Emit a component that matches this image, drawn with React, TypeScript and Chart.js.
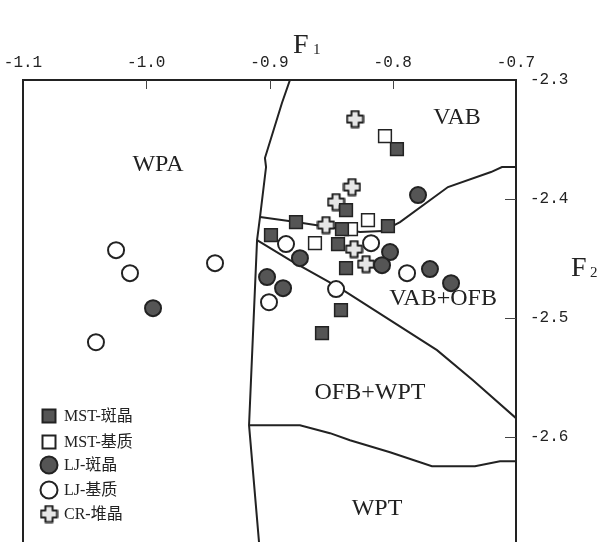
import React, { useEffect, useRef } from "react";
import { Chart, registerables } from "chart.js";

Chart.register(...registerables);

// Axis ranges and ticks
const xTicks = [-1.1, -1.0, -0.9, -0.8, -0.7];
const yTicks = [-2.3, -2.4, -2.5, -2.6];
const X_MIN = -1.1;
const X_MAX = -0.7;
const Y_MAX = -2.3;
const Y_MIN = -2.688;

// MST-斑晶 (filled squares)
const mstPhenoX = [-0.7966, -0.8379, -0.8785, -0.8412, -0.8039, -0.8988, -0.8444, -0.8379, -0.842, -0.8574];
const mstPhenoY = [-2.358, -2.4092, -2.4193, -2.4252, -2.4227, -2.4303, -2.4378, -2.458, -2.4933, -2.5126];

// MST-基质 (open squares)
const mstMatrixX = [-0.8063, -0.8201, -0.8339, -0.8631];
const mstMatrixY = [-2.3471, -2.4176, -2.4252, -2.437];

// LJ-斑晶 (filled circles)
const ljPhenoX = [-0.7795, -0.8753, -0.8022, -0.8087, -0.7698, -0.7527, -0.902, -0.889, -0.9945];
const ljPhenoY = [-2.3966, -2.4496, -2.4445, -2.4555, -2.4588, -2.4706, -2.4655, -2.4748, -2.4916];

// LJ-基质 (open circles)
const ljMatrixX = [-0.8866, -0.8176, -0.7884, -0.846, -0.9004, -1.0245, -1.0132, -0.9442, -1.0408];
const ljMatrixY = [-2.4378, -2.437, -2.4622, -2.4756, -2.4866, -2.4429, -2.4622, -2.4538, -2.5202];

// CR-堆晶 (crosses)
const crX = [-0.8306, -0.8331, -0.846, -0.8542, -0.8314, -0.8217];
const crY = [-2.3328, -2.3899, -2.4025, -2.4218, -2.442, -2.4546];

// Field boundaries
const leftBoundX = [-0.8834, -0.8899, -0.9037, -0.9028, -0.9077, -0.9101, -0.9166, -0.9085, -0.9075];
const leftBoundY = [-2.3, -2.3193, -2.3655, -2.3731, -2.4151, -2.4345, -2.5899, -2.6882, -2.7];

const vabBoundX = [-0.9077, -0.8785, -0.8266, -0.8079, -0.7941, -0.7552, -0.7203, -0.7114, -0.7];
const vabBoundY = [-2.4151, -2.4193, -2.4277, -2.4269, -2.4193, -2.3899, -2.3773, -2.3731, -2.3731];

const diagBoundX = [-0.9101, -0.8834, -0.8428, -0.7641, -0.7349, -0.7];
const diagBoundY = [-2.4345, -2.4513, -2.4748, -2.5269, -2.5521, -2.584];

const wptBoundX = [-0.9166, -0.8753, -0.8509, -0.8347, -0.8022, -0.7682, -0.7333, -0.713, -0.7];
const wptBoundY = [-2.5899, -2.5899, -2.5966, -2.6025, -2.6126, -2.6244, -2.6244, -2.6202, -2.6202];

// Field names
const fieldNames = ["WPA", "VAB", "VAB+OFB", "OFB+WPT", "WPT"];
const fieldX = [-0.9905, -0.7479, -0.7592, -0.8185, -0.8128];
const fieldY = [-2.3714, -2.3319, -2.484, -2.5622, -2.6597];

const legendLabels = ["MST-斑晶", "MST-基质", "LJ-斑晶", "LJ-基质", "CR-堆晶"];

const zip = (xs: number[], ys: number[]) => xs.map((x, i) => ({ x, y: ys[i] }));

const DARK = "#555555";
const STROKE = "#222222";
const CROSS_FILL = "#e6e6e6";

function makeCross(size: number): HTMLCanvasElement {
  const c = document.createElement("canvas");
  c.width = size;
  c.height = size;
  const g = c.getContext("2d")!;
  const h = size / 2;
  const a = 3.6;
  const L = h - 1.5;
  g.beginPath();
  g.moveTo(h - a, h - L);
  g.lineTo(h + a, h - L);
  g.lineTo(h + a, h - a);
  g.lineTo(h + L, h - a);
  g.lineTo(h + L, h + a);
  g.lineTo(h + a, h + a);
  g.lineTo(h + a, h + L);
  g.lineTo(h - a, h + L);
  g.lineTo(h - a, h + a);
  g.lineTo(h - L, h + a);
  g.lineTo(h - L, h - a);
  g.lineTo(h - a, h - a);
  g.closePath();
  g.fillStyle = CROSS_FILL;
  g.fill();
  g.lineJoin = "round";
  g.lineWidth = 2;
  g.strokeStyle = STROKE;
  g.stroke();
  return c;
}

export default function App() {
  const ref = useRef<HTMLCanvasElement | null>(null);

  useEffect(() => {
    if (!ref.current) return;
    const cross = makeCross(19);

    const lineDs = (xs: number[], ys: number[]) => ({
      type: "scatter" as const,
      data: zip(xs, ys),
      showLine: true,
      borderColor: STROKE,
      borderWidth: 2,
      pointRadius: 0,
      tension: 0,
      order: 5,
      fill: false,
    });

    const framePlugin = {
      id: "frame",
      afterDatasetsDraw(chart: any) {
        const { ctx, chartArea: a, scales } = chart;
        const sx = scales.x;
        const sy = scales.y;
        ctx.save();
        // left border
        ctx.strokeStyle = STROKE;
        ctx.lineWidth = 2;
        ctx.beginPath();
        ctx.moveTo(a.left, a.top - 1);
        ctx.lineTo(a.left, a.bottom + 2);
        ctx.stroke();
        // inward ticks
        ctx.lineWidth = 1;
        ctx.strokeStyle = "#444";
        xTicks.slice(1, -1).forEach((v) => {
          const px = Math.round(sx.getPixelForValue(v)) + 0.5;
          ctx.beginPath();
          ctx.moveTo(px, a.top);
          ctx.lineTo(px, a.top + 9);
          ctx.stroke();
        });
        yTicks.slice(1).forEach((v) => {
          const py = Math.round(sy.getPixelForValue(v)) + 0.5;
          ctx.beginPath();
          ctx.moveTo(a.right - 11, py);
          ctx.lineTo(a.right, py);
          ctx.stroke();
        });
        // field names
        ctx.fillStyle = "#222";
        ctx.font = '24px "Liberation Serif"';
        ctx.textAlign = "center";
        ctx.textBaseline = "middle";
        fieldNames.forEach((n, i) => {
          ctx.fillText(n, sx.getPixelForValue(fieldX[i]), sy.getPixelForValue(fieldY[i]));
        });
        // axis titles F1 / F2
        ctx.textAlign = "left";
        ctx.textBaseline = "alphabetic";
        ctx.font = '28px "Liberation Serif"';
        ctx.fillText("F", 293, 53);
        ctx.font = '15px "Liberation Serif"';
        ctx.fillText("1", 313, 54);
        ctx.font = '28px "Liberation Serif"';
        ctx.fillText("F", 571, 276);
        ctx.font = '15px "Liberation Serif"';
        ctx.fillText("2", 590, 277);
        // legend
        const rows = [416, 442, 465, 490, 514];
        const mx = 49;
        rows.forEach((ry, i) => {
          ctx.lineWidth = 2;
          ctx.strokeStyle = STROKE;
          if (i === 0 || i === 1) {
            ctx.fillStyle = i === 0 ? DARK : "#ffffff";
            ctx.fillRect(mx - 6.5, ry - 6.5, 13, 13);
            ctx.strokeRect(mx - 6.5, ry - 6.5, 13, 13);
          } else if (i === 2 || i === 3) {
            ctx.fillStyle = i === 2 ? DARK : "#ffffff";
            ctx.beginPath();
            ctx.arc(mx, ry, 8.5, 0, Math.PI * 2);
            ctx.fill();
            ctx.stroke();
          } else {
            ctx.drawImage(cross, mx - cross.width / 2, ry - cross.height / 2);
          }
          ctx.fillStyle = "#222";
          ctx.font = '16px "Liberation Serif", "Noto Sans CJK SC"';
          ctx.textAlign = "left";
          ctx.textBaseline = "middle";
          ctx.fillText(legendLabels[i], 64, ry + 1);
        });
        ctx.restore();
      },
    };

    const chart = new Chart(ref.current, {
      type: "scatter",
      data: {
        datasets: [
          {
            label: legendLabels[0],
            data: zip(mstPhenoX, mstPhenoY),
            pointStyle: "rect",
            pointRadius: 9,
            backgroundColor: DARK,
            borderColor: STROKE,
            borderWidth: 1.5,
            order: 0,
          },
          {
            label: legendLabels[1],
            data: zip(mstMatrixX, mstMatrixY),
            pointStyle: "rect",
            pointRadius: 9,
            backgroundColor: "#ffffff",
            borderColor: STROKE,
            borderWidth: 1.5,
            order: 1,
          },
          {
            label: legendLabels[2],
            data: zip(ljPhenoX, ljPhenoY),
            pointStyle: "circle",
            pointRadius: 8,
            backgroundColor: DARK,
            borderColor: STROKE,
            borderWidth: 2,
            order: 1,
          },
          {
            label: legendLabels[3],
            data: zip(ljMatrixX, ljMatrixY),
            pointStyle: "circle",
            pointRadius: 8,
            backgroundColor: "#ffffff",
            borderColor: STROKE,
            borderWidth: 2,
            order: 1,
          },
          {
            label: legendLabels[4],
            data: zip(crX, crY),
            pointStyle: cross,
            pointRadius: 9,
            backgroundColor: CROSS_FILL,
            borderColor: STROKE,
            order: 2,
          },
          lineDs(leftBoundX, leftBoundY),
          lineDs(vabBoundX, vabBoundY),
          lineDs(diagBoundX, diagBoundY),
          lineDs(wptBoundX, wptBoundY),
        ] as any,
      },
      options: {
        responsive: false,
        animation: false,
        layout: { padding: { left: 23, right: 0, top: 0, bottom: 0 }, autoPadding: false },
        plugins: {
          legend: { display: false },
          tooltip: { enabled: false },
        },
        scales: {
          x: {
            type: "linear",
            position: "top",
            min: X_MIN,
            max: X_MAX,
            afterBuildTicks: (s: any) => {
              s.ticks = xTicks.map((v) => ({ value: v }));
            },
            afterFit: (s: any) => {
              s.height = 80;
              s.paddingLeft = 0;
              s.paddingRight = 0;
              s.paddingTop = 0;
              s.paddingBottom = 0;
            },
            grid: { display: false, drawTicks: false },
            border: { display: true, color: STROKE, width: 2 },
            ticks: {
              padding: 8,
              color: "#222",
              font: { family: "Liberation Mono", size: 16 },
              callback: (v: any) => Number(v).toFixed(1),
            },
          },
          y: {
            type: "linear",
            position: "right",
            min: Y_MIN,
            max: Y_MAX,
            afterBuildTicks: (s: any) => {
              s.ticks = yTicks.map((v) => ({ value: v }));
            },
            afterFit: (s: any) => {
              s.width = 85;
              s.paddingLeft = 0;
              s.paddingRight = 0;
              s.paddingTop = 0;
              s.paddingBottom = 0;
            },
            grid: { display: false, drawTicks: false },
            border: { display: true, color: STROKE, width: 2 },
            ticks: {
              padding: 14,
              color: "#222",
              font: { family: "Liberation Mono", size: 16 },
              callback: (v: any) => Number(v).toFixed(1),
            },
          },
        },
      },
      plugins: [framePlugin],
    } as any);

    return () => chart.destroy();
  }, []);

  return (
    <div style={{ position: "absolute", left: 0, top: 0, width: 601, height: 542, background: "#fff" }}>
      <canvas ref={ref} width={601} height={542} style={{ display: "block" }} />
    </div>
  );
}
